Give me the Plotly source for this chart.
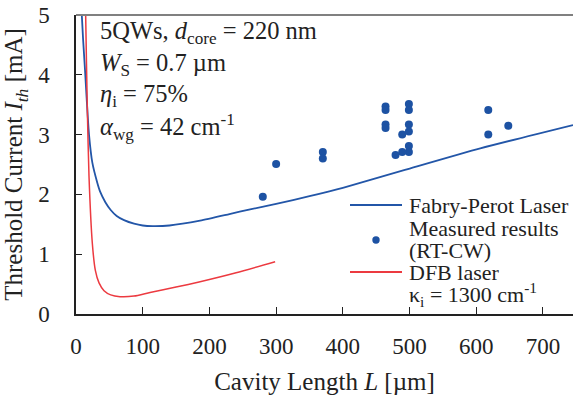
import plotly.graph_objects as go

# Fabry-Perot calculated threshold curve
fp_L = [8, 10.5, 13.5, 16, 19.5, 24.5, 32, 36, 44, 52, 61, 72, 87, 100, 115, 140, 186, 230, 261, 300, 350, 400, 493, 606, 745]
fp_I = [5.15, 4.62, 4.08, 3.6, 3.0, 2.53, 2.19, 2.05, 1.87, 1.74, 1.64, 1.57, 1.51, 1.48, 1.47, 1.48, 1.56, 1.67, 1.75, 1.84, 1.97, 2.11, 2.41, 2.77, 3.16]

# DFB calculated threshold curve
dfb_L = [14, 14.5, 17, 19.5, 24.5, 29, 34.5, 42, 52, 66, 87, 111, 150, 186, 240, 298.5]
dfb_I = [5.35, 5.0, 3.41, 2.30, 1.18, 0.73, 0.52, 0.39, 0.32, 0.29, 0.30, 0.36, 0.45, 0.54, 0.69, 0.875]

# Measured results (RT-CW)
meas_L = [280, 300, 370, 370, 464, 464, 464, 464, 499, 499, 499, 499, 489, 499, 499, 489, 479, 618, 618, 648]
meas_I = [1.96, 2.51, 2.71, 2.60, 3.47, 3.41, 3.17, 3.11, 3.51, 3.41, 3.17, 3.05, 3.00, 2.81, 2.71, 2.71, 2.66, 3.41, 3.00, 3.15]

x_ticks = [0, 100, 200, 300, 400, 500, 600, 700]
y_ticks = [0, 1, 2, 3, 4, 5]

BLUE = "#2356a8"
DOT = "#1d52a3"
RED = "#ec3a40"
FONT = "Liberation Serif"
TXT = "#222"

fig = go.Figure()
fig.add_trace(go.Scatter(x=fp_L, y=fp_I, mode="lines", line=dict(color=BLUE, width=1.8, shape="spline", smoothing=0.6),
                         name="Fabry-Perot Laser"))
fig.add_trace(go.Scatter(x=dfb_L, y=dfb_I, mode="lines", line=dict(color=RED, width=1.5, shape="spline", smoothing=0.6),
                         name="DFB laser"))
fig.add_trace(go.Scatter(x=meas_L, y=meas_I, mode="markers", marker=dict(color=DOT, size=8),
                         name="Measured results"))

W, H = 573, 401
L0, R0, T0, B0 = 76, 0, 15, 87
pw, ph = W - L0 - R0, H - T0 - B0


def px(x):
    return (x - L0) / pw


def py(y):
    return (H - B0 - y) / ph


ann = []
info = ["5QWs, <i>d</i><sub>core</sub> = 220 nm",
        "<i>W</i><sub>S</sub> = 0.7 µm",
        "<i>η</i><sub>i</sub> = 75%",
        "<i>α</i><sub>wg</sub> = 42 cm<sup>-1</sup>"]
for i, t in enumerate(info):
    ann.append(dict(text=t, x=px(98), y=py(33 + 31.3 * i), xref="paper", yref="paper",
                    xanchor="left", yanchor="middle", showarrow=False,
                    font=dict(family=FONT, size=24.5, color=TXT)))

leg = [("Fabry-Perot Laser", 205), ("Measured results", 228), ("(RT-CW)", 250),
       ("DFB laser", 272), ("κ<sub>i</sub> = 1300 cm<sup>-1</sup>", 294)]
for t, yy in leg:
    ann.append(dict(text=t, x=px(407), y=py(yy), xref="paper", yref="paper",
                    xanchor="left", yanchor="middle", showarrow=False,
                    font=dict(family=FONT, size=22, color=TXT)))

shapes = [
    dict(type="line", xref="paper", yref="paper", x0=0, x1=1, y0=1, y1=1,
         line=dict(color="#808080", width=2)),
    dict(type="line", xref="paper", yref="paper", x0=px(350), x1=px(402), y0=py(205), y1=py(205),
         line=dict(color=BLUE, width=2)),
    dict(type="line", xref="paper", yref="paper", x0=px(350), x1=px(402), y0=py(272), y1=py(272),
         line=dict(color=RED, width=1.8)),
    dict(type="circle", xref="paper", yref="paper", x0=px(372.3), x1=px(379.7), y0=py(243.7), y1=py(236.3),
         fillcolor=DOT, line=dict(width=0)),
]

fig.update_layout(
    width=W, height=H,
    margin=dict(l=L0, r=R0, t=T0, b=B0),
    paper_bgcolor="white", plot_bgcolor="white",
    showlegend=False,
    font=dict(family=FONT, size=23, color=TXT),
    annotations=ann, shapes=shapes,
    xaxis=dict(range=[0, 745], tickvals=x_ticks, ticktext=[str(v) for v in x_ticks],
               ticks="inside", ticklen=7, tickwidth=1, tickcolor=TXT,
               showline=True, linecolor=TXT, linewidth=1.5, showgrid=False, zeroline=False,
               tickfont=dict(family=FONT, size=23, color=TXT), ticklabelstandoff=11,
               title=dict(text="Cavity Length <i>L</i> [µm]", font=dict(family=FONT, size=25, color=TXT), standoff=14)),
    yaxis=dict(range=[0, 5], tickvals=y_ticks, ticktext=[str(v) for v in y_ticks],
               ticks="inside", ticklen=6, tickwidth=1, tickcolor=TXT,
               showline=True, linecolor=TXT, linewidth=1.5, showgrid=False, zeroline=False,
               tickfont=dict(family=FONT, size=23, color=TXT), ticklabelstandoff=20,
               title=dict(text="Threshold Current <i>I<sub>th</sub></i> [mA]", font=dict(family=FONT, size=25, color=TXT), standoff=8)),
)

fig.write_html("out.html")
